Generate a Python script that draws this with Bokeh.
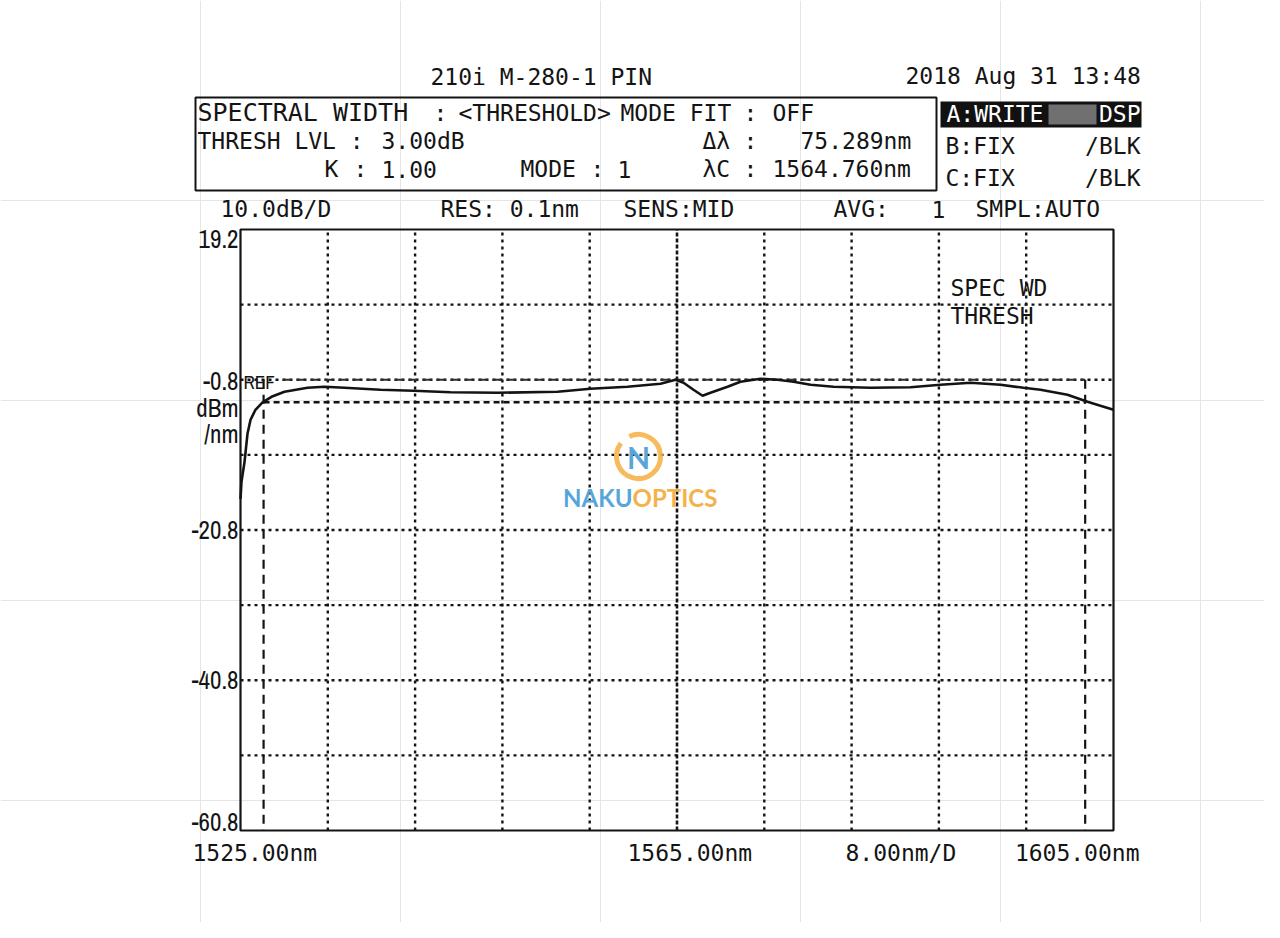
from bokeh.plotting import figure
from bokeh.models import Label, Range1d
from bokeh.embed import file_html
from bokeh.resources import INLINE

# ---------------- data ----------------
wavelength_nm = [1525.0, 1525.09, 1525.37, 1525.64, 1525.92, 1526.37, 1527.02, 1527.84,
                 1529.03, 1531.14, 1532.70, 1534.53, 1537.83, 1540.85, 1544.24, 1548.55,
                 1554.05, 1557.07, 1560.46, 1563.49, 1564.86, 1565.60, 1566.51, 1567.34,
                 1568.07, 1569.63, 1570.82, 1572.65, 1574.21, 1575.68, 1577.24, 1579.34,
                 1582.73, 1586.40, 1589.15, 1591.90, 1594.65, 1596.75, 1598.31, 1600.78,
                 1602.62, 1603.80, 1605.0]
power_dbm = [-16.67, -14.4, -11.73, -8.0, -6.13, -4.8, -3.8, -3.07,
             -2.4, -1.87, -1.73, -1.87, -2.13, -2.27, -2.47, -2.53,
             -2.4, -2.0, -1.73, -1.33, -0.8, -1.2, -2.13, -2.93,
             -2.53, -1.73, -1.07, -0.67, -0.8, -1.07, -1.47, -1.73,
             -1.87, -1.8, -1.47, -1.2, -1.47, -1.87, -2.13, -2.8,
             -3.73, -4.27, -4.8]
x_ticks_nm = [1525, 1533, 1541, 1549, 1557, 1565, 1573, 1581, 1589, 1597, 1605]
y_ticks_dbm = [19.2, 9.2, -0.8, -10.8, -20.8, -30.8, -40.8, -50.8, -60.8]
x_tick_labels = ["1525.00nm", "1565.00nm", "8.00nm/D", "1605.00nm"]
y_tick_labels = ["19.2", "-0.8", "dBm", "/nm", "-20.8", "-40.8", "-60.8"]
ref_level_dbm = -0.8
thresh_db = 3.00
center_nm = 1564.760
width_nm = 75.289

# ---------------- geometry ----------------
W, H = 1264, 922
FL, FR, FT, FB = 240, 1113, 229, 830          # plot frame on the canvas
X0, X1 = x_ticks_nm[0], x_ticks_nm[-1]
Y0, Y1 = y_ticks_dbm[-1], y_ticks_dbm[0]
kx = (X1 - X0) / (FR - FL)
ky = (Y1 - Y0) / (FB - FT)

p = figure(width=W, height=H, x_range=Range1d(0, W), y_range=Range1d(H, 0),
           x_axis_location=None, y_axis_location=None, toolbar_location=None,
           output_backend="svg", min_border=0, outline_line_color=None,
           background_fill_color="white", border_fill_color="white")
p.extra_x_ranges = {"wl": Range1d(X0 - FL * kx, X1 + (W - FR) * kx)}
p.extra_y_ranges = {"db": Range1d(Y0 - (H - FB) * ky, Y1 + FT * ky)}
D = dict(x_range_name="wl", y_range_name="db")
INK = "#141414"

# grid
gx = [t for t in x_ticks_nm if X0 < t < X1 and t != 1565]
p.segment(x0=gx, y0=[Y0] * len(gx), x1=gx, y1=[Y1] * len(gx), line_color=INK,
          line_width=2.4, line_dash="3 4", **D)
gy = [t for t in y_ticks_dbm if Y0 < t < Y1]
p.segment(x0=[X0] * len(gy), y0=gy, x1=[X1] * len(gy), y1=gy, line_color=INK,
          line_width=2.4, line_dash="3 4", **D)
p.segment(x0=[1565], y0=[Y0], x1=[1565], y1=[Y1], line_color=INK, line_width=2.6,
          line_dash="4 2", **D)

# spectral-width markers
left_nm = center_nm - width_nm / 2
right_nm = center_nm + width_nm / 2
thr = ref_level_dbm - thresh_db
ref_start = X0 + (282 - FL) * kx
p.segment(x0=[ref_start], y0=[ref_level_dbm], x1=[right_nm], y1=[ref_level_dbm],
          line_color="#303030", line_width=2, line_dash="9 5", **D)
p.segment(x0=[left_nm], y0=[thr], x1=[right_nm], y1=[thr],
          line_color=INK, line_width=2.4, line_dash="6 4", **D)
p.segment(x0=[left_nm, right_nm], y0=[ref_level_dbm] * 2, x1=[left_nm, right_nm], y1=[Y0] * 2,
          line_color=INK, line_width=2.2, line_dash="9 6", **D)

# frame
p.quad(left=[X0], right=[X1], bottom=[Y0], top=[Y1], fill_color=None,
       line_color=INK, line_width=2.2, **D)

# trace
p.line(wavelength_nm, power_dbm, line_color=INK, line_width=2.6, **D)

# ---------------- texts and panels ----------------
MONO = "DejaVu Sans Mono"
NARROW = "Archivo Narrow"


def lab(px, py, s, size=23, align="left", color=INK, font=MONO, style="normal", alpha=1.0):
    # py is the wanted baseline; the renderer anchors near the em-box middle
    p.add_layout(Label(x=px, y=py - 0.4 * size, text=s, text_align=align,
                       text_baseline="alphabetic", text_font=font,
                       text_font_size=f"{size}px", text_color=color,
                       text_font_style=style, text_alpha=alpha))


# info box
p.quad(left=[195], right=[936], top=[97], bottom=[190],
       fill_color=None, line_color=INK, line_width=2)
# trace-A highlight bar
p.quad(left=[940], right=[1141], top=[101], bottom=[127],
       fill_color="#111111", line_color=None)
p.quad(left=[1048], right=[1096], top=[104], bottom=[124],
       fill_color="#707070", line_color=None)

lab(430, 86, "210i M-280-1 PIN")
lab(905, 85, "2018 Aug 31 13:48")

lab(197, 122, "SPECTRAL WIDTH", size=25)
lab(433, 122, ":")
lab(458, 122, "<THRESHOLD>")
lab(620, 122, "MODE FIT")
lab(743, 122, ":")
lab(772, 122, "OFF")

lab(197, 150, "THRESH LVL :")
lab(381, 150, "3.00dB")
lab(702, 150, "Δλ")
lab(743, 150, ":")
lab(800, 150, "75.289nm")

lab(324, 178, "K")
lab(353, 178, ":")
lab(381, 178, "1.00")
lab(520, 178, "MODE")
lab(590, 178, ":")
lab(617, 178, "1")
lab(702, 178, "λC")
lab(743, 178, ":")
lab(772, 178, "1564.760nm")

lab(946, 123, "A:WRITE", color="white")
lab(1140, 123, "DSP", color="white", align="right")
lab(945, 155, "B:FIX")
lab(1140, 155, "/BLK", align="right")
lab(945, 187, "C:FIX")
lab(1140, 187, "/BLK", align="right")

lab(220, 218, "10.0dB/D")
lab(440, 218, "RES: 0.1nm")
lab(623, 218, "SENS:MID")
lab(833, 218, "AVG:")
lab(931, 218, "1")
lab(975, 218, "SMPL:AUTO")

lab(950, 297, "SPEC WD")
lab(950, 325, "THRESH")

# y labels
for s, py in zip(y_tick_labels, [248, 390, 417, 443, 539, 689, 831]):
    lab(238, py, s, size=25, align="right", font=NARROW)
lab(243, 389, "REF", size=19, font=NARROW)

# x labels
lab(192, 862, x_tick_labels[0])
lab(627, 862, x_tick_labels[1])
lab(845, 862, x_tick_labels[2])
lab(1139, 862, x_tick_labels[3], align="right")

# watermark
p.arc(x=[638], y=[456], radius=22, radius_units="screen", start_angle=2.5,
      end_angle=2.0, direction="anticlock", line_color="#f6b24a", line_width=5, line_alpha=0.9)
lab(638, 468, "N", size=30, color="#5aa5d8", font="Lato", style="bold", align="center")
lab(632, 507, "NAKU", size=24, color="#5aa5d8", font="Lato", style="bold", align="right")
lab(632, 507, "OPTICS", size=24, color="#f6b24a", font="Lato", style="bold")

open("out.html", "w").write(file_html(p, INLINE))
